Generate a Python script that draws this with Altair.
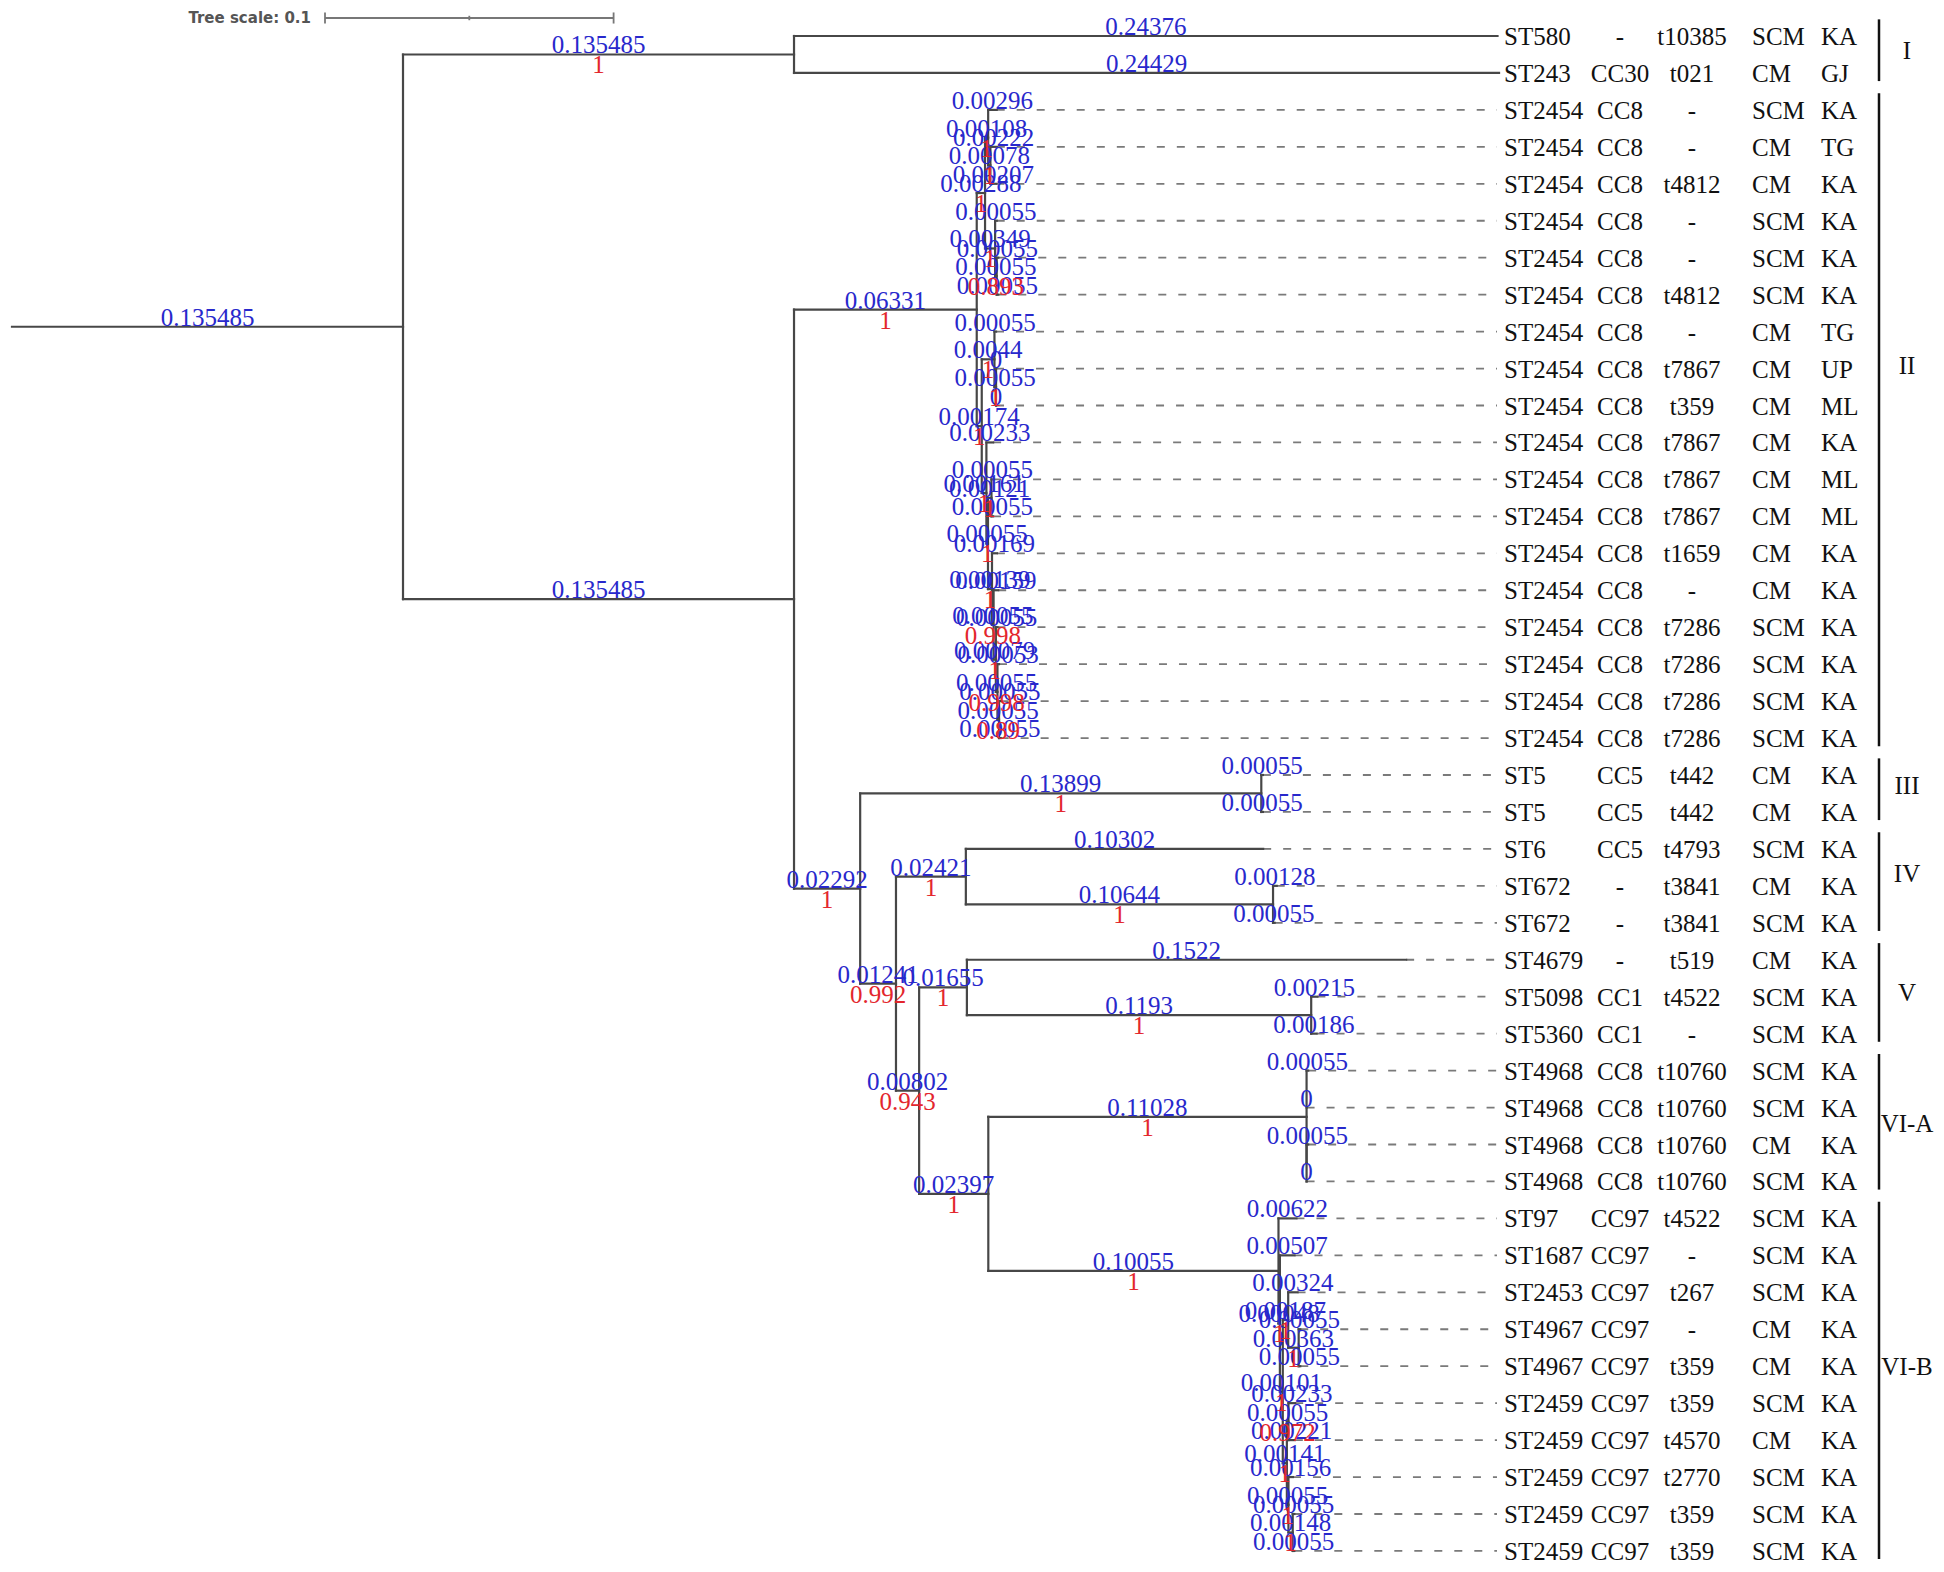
import altair as alt
import pandas as pd

# ---------------- data ----------------
# tree: node name, parent, branch length, bootstrap support (None = not shown)
node_name = ["root", "cI", "L0", "L1", "g", "cII", "a", "t", "L2", "n34", "L3", "L4", "u", "L5", "v", "L6", "L7",
             "b", "b1", "L8", "w", "L9", "L10", "b2", "L11", "r", "q", "L12", "L13", "s", "L14", "s2", "L15",
             "s3", "L16", "s4", "L17", "s5", "L18", "L19",
             "d", "cIII", "L20", "L21", "e", "cIV", "L22", "iv2", "L23", "L24", "f", "cV", "L25", "v2", "L26", "L27",
             "cVI", "cVIA", "L28", "L29", "p", "L30", "L31", "cVIB", "L32", "n33", "L33", "m", "n34b", "L34",
             "c35", "L35", "L36", "c3741", "c37", "L37", "L38", "c39", "L39", "c40", "L40", "L41"]
node_parent = [None, "root", "cI", "cI", "root", "g", "cII", "a", "t", "t", "n34", "n34", "a", "u", "u", "v", "v",
               "cII", "b", "b1", "b1", "w", "w", "b", "b2", "b2", "r", "q", "q", "r", "s", "s", "s2",
               "s2", "s3", "s3", "s4", "s4", "s5", "s5",
               "g", "d", "cIII", "cIII", "d", "e", "cIV", "cIV", "iv2", "iv2", "e", "f", "cV", "cV", "v2", "v2",
               "f", "cVI", "cVIA", "cVIA", "cVIA", "p", "p", "cVI", "cVIB", "cVIB", "n33", "n33", "m", "n34b",
               "n34b", "c35", "c35", "m", "c3741", "c37", "c37", "c3741", "c39", "c39", "c40", "c40"]
node_length = [0.135485, 0.135485, 0.24376, 0.24429, 0.135485, 0.06331, 0.00288, 0.00108, 0.00296, 0.00078,
               0.00222, 0.00207, 0.00349, 0.00055, 0.00055, 0.00055, 0.00055,
               0.00174, 0.0044, 0.00055, 0.00055, 0, 0, 0.00161, 0.00233, 0.00055, 0.00121, 0.00055, 0.00055,
               0.00139, 0.00169, 0.00055, 0.00159, 0.00079, 0.00055, 0.00055, 0.00053, 0.00055, 0.00055, 0.00055,
               0.02292, 0.13899, 0.00055, 0.00055, 0.01241, 0.02421, 0.10302, 0.10644, 0.00128, 0.00055,
               0.00802, 0.01655, 0.1522, 0.1193, 0.00215, 0.00186,
               0.02397, 0.11028, 0.00055, 0, 0, 0.00055, 0, 0.10055, 0.00622, 0.00048, 0.00507, 0.00101,
               0.00187, 0.00324, 0.00363, 0.00055, 0.00055, 0.00141, 0.00055, 0.00233, 0.00221, 0.00055,
               0.00156, 0.00148, 0.00055, 0.00055]
node_support = [None, 1, None, None, None, 1, 1, 1, None, 1, None, None, 1, None, 0.893, None, None,
                1, 1, None, 1, None, None, 1, None, 1, 1, None, None, 1, None, 0.998, None,
                1, None, 0.998, None, 0.89, None, None,
                1, 1, None, None, 0.992, 1, None, 1, None, None, 0.943, 1, None, 1, None, None,
                1, 1, None, None, None, None, None, 1, None, 1, None, 1, 1, None,
                1, None, None, 1, 0.972, None, None, 1, None, 1, None, None]
hidden_length_labels = ["p"]

# leaf annotation columns
leaf_st = ["ST580", "ST243"] + ["ST2454"] * 18 + ["ST5", "ST5", "ST6", "ST672", "ST672", "ST4679", "ST5098",
           "ST5360"] + ["ST4968"] * 4 + ["ST97", "ST1687", "ST2453", "ST4967", "ST4967"] + ["ST2459"] * 5
leaf_cc = ["-", "CC30"] + ["CC8"] * 18 + ["CC5", "CC5", "CC5", "-", "-", "-", "CC1", "CC1"] + ["CC8"] * 4 + \
          ["CC97"] * 10
leaf_spa = ["t10385", "t021", "-", "-", "t4812", "-", "-", "t4812", "-", "t7867", "t359", "t7867", "t7867",
            "t7867", "t1659", "-", "t7286", "t7286", "t7286", "t7286", "t442", "t442", "t4793", "t3841",
            "t3841", "t519", "t4522", "-", "t10760", "t10760", "t10760", "t10760", "t4522", "-", "t267", "-",
            "t359", "t359", "t4570", "t2770", "t359", "t359"]
leaf_mastitis = ["SCM", "CM",
                 "SCM", "CM", "CM", "SCM", "SCM", "SCM", "CM", "CM", "CM", "CM", "CM", "CM", "CM", "CM",
                 "SCM", "SCM", "SCM", "SCM",
                 "CM", "CM",
                 "SCM", "CM", "SCM",
                 "CM", "SCM", "SCM",
                 "SCM", "SCM", "CM", "SCM",
                 "SCM", "SCM", "SCM", "CM", "CM", "SCM", "CM", "SCM", "SCM", "SCM"]
leaf_region = ["KA", "GJ",
               "KA", "TG", "KA", "KA", "KA", "KA", "TG", "UP", "ML", "KA", "ML", "ML", "KA", "KA", "KA", "KA",
               "KA", "KA"] + ["KA"] * 22

clade_label = ["I", "II", "III", "IV", "V", "VI-A", "VI-B"]
clade_first = [0, 2, 20, 22, 25, 28, 32]
clade_last = [1, 19, 21, 24, 27, 31, 41]

tree_scale_value = 0.1
tree_scale_text = "Tree scale: 0.1"

# ---------------- layout ----------------
W, H = 1928, 1556
X0_PX, PX_PER_UNIT = 12.0, 2886.0      # page px of branch-length 0, px per unit
Y0_PX, PX_PER_ROW = 36.0, 36.95        # page px of leaf 0, px per leaf row


def ux(px):
    return (px - X0_PX) / PX_PER_UNIT


def uy(px):
    return (px - Y0_PX) / PX_PER_ROW


xs = alt.Scale(domain=[ux(8), ux(8 + W)], nice=False, zero=False)
ys = alt.Scale(domain=[uy(8), uy(8 + H)], nice=False, zero=False, reverse=True)

ALIGN_X = ux(1497)
COL_ST = ux(1504)
COL_CC = ux(1620)
COL_SPA = ux(1692)
COL_MM = ux(1752)
COL_REG = ux(1821)
BAR_X = ux(1879)
NUM_X = ux(1907)
NUM_ROW = [0.37, 8.9, 20.27, 22.65, 25.87, 29.43, 36.0]   # row position of each clade numeral
SCALE_X = ux(325)
SCALE_Y = uy(18)
SCALE_TXT_X = ux(311)

BLUE = "#2828cc"
RED = "#e3262d"
LINE = "#474747"
SERIF = "Liberation Serif"

# ---------------- tree geometry ----------------
children = {n: [] for n in node_name}
for n, p in zip(node_name, node_parent):
    if p is not None:
        children[p].append(n)
par = dict(zip(node_name, node_parent))
blen = dict(zip(node_name, node_length))
sup = dict(zip(node_name, node_support))

xpos = {}
for n in node_name:
    p = par[n]
    xpos[n] = (xpos[p] if p is not None else 0.0) + blen[n]

leaves = [n for n in node_name if not children[n]]
leaf_idx = {n: i for i, n in enumerate(leaves)}
ypos = {}


def gety(n):
    if n in ypos:
        return ypos[n]
    if not children[n]:
        v = float(leaf_idx[n])
    else:
        cy = [gety(c) for c in children[n]]
        v = (cy[0] + cy[-1]) / 2.0
    ypos[n] = v
    return v


for n in node_name:
    gety(n)

seg = []
for n in node_name:
    p = par[n]
    xstart = xpos[p] if p is not None else 0.0
    seg.append(dict(x=xstart, x2=xpos[n], y=ypos[n], y2=ypos[n]))
    if children[n]:
        seg.append(dict(x=xpos[n], x2=xpos[n], y=ypos[children[n][0]], y2=ypos[children[n][-1]]))
seg_df = pd.DataFrame(seg)

dash_df = pd.DataFrame([dict(x=xpos[n], x2=ALIGN_X, y=ypos[n], y2=ypos[n])
                        for n in leaves if xpos[n] < ALIGN_X - 1e-4])

blue_rows, red_rows = [], []
for n in node_name:
    p = par[n]
    xstart = xpos[p] if p is not None else 0.0
    xm = (xstart + xpos[n]) / 2.0
    if n not in hidden_length_labels:
        blue_rows.append(dict(x=xm, y=ypos[n], t=f"{blen[n]:g}"))
    if sup[n] is not None:
        red_rows.append(dict(x=xm, y=ypos[n], t=f"{sup[n]:g}"))
blue_df = pd.DataFrame(blue_rows)
red_df = pd.DataFrame(red_rows)

leaf_df = pd.DataFrame(dict(y=list(range(len(leaf_st))), st=leaf_st, cc=leaf_cc, spa=leaf_spa,
                            mm=leaf_mastitis, reg=leaf_region))
leaf_df["xst"] = COL_ST
leaf_df["xcc"] = COL_CC
leaf_df["xspa"] = COL_SPA
leaf_df["xmm"] = COL_MM
leaf_df["xreg"] = COL_REG

clade_df = pd.DataFrame(dict(lab=clade_label,
                             y=[f - 0.45 for f in clade_first],
                             y2=[l + 0.22 for l in clade_last],
                             ym=NUM_ROW))
clade_df["x"] = BAR_X
clade_df["xn"] = NUM_X

scale_df = pd.DataFrame([dict(x=SCALE_X, x2=SCALE_X + tree_scale_value, y=SCALE_Y, y2=SCALE_Y)])
tick_df = pd.DataFrame([
    dict(x=SCALE_X, x2=SCALE_X, y=SCALE_Y - 0.15, y2=SCALE_Y + 0.15),
    dict(x=SCALE_X + tree_scale_value, x2=SCALE_X + tree_scale_value, y=SCALE_Y - 0.15, y2=SCALE_Y + 0.15),
    dict(x=SCALE_X + tree_scale_value / 2, x2=SCALE_X + tree_scale_value / 2, y=SCALE_Y - 0.06,
         y2=SCALE_Y + 0.06),
])
scale_txt_df = pd.DataFrame([dict(x=SCALE_TXT_X, y=SCALE_Y, t=tree_scale_text)])


def X(f):
    return alt.X(f, type="quantitative", scale=xs, axis=None)


def Y(f):
    return alt.Y(f, type="quantitative", scale=ys, axis=None)


def rules(df, **kw):
    return alt.Chart(df).mark_rule(**kw).encode(x=X("x"), x2=alt.X2("x2"), y=Y("y"), y2=alt.Y2("y2"))


tree = rules(seg_df, color=LINE, strokeWidth=2.2, strokeCap="square")
dashes = rules(dash_df, color="#7a7a7a", strokeWidth=1.8, strokeDash=[8, 12])
blue = alt.Chart(blue_df).mark_text(font=SERIF, fontSize=25, color=BLUE, baseline="alphabetic",
                                    align="center", dy=-1).encode(x=X("x"), y=Y("y"), text="t:N")
red = alt.Chart(red_df).mark_text(font=SERIF, fontSize=25, color=RED, baseline="alphabetic",
                                  align="center", dy=19).encode(x=X("x"), y=Y("y"), text="t:N")


def leaf_text(col, xcol, align):
    return alt.Chart(leaf_df).mark_text(font=SERIF, fontSize=25, color="#111111", baseline="alphabetic",
                                        align=align, dy=9).encode(x=X(xcol), y=Y("y"), text=f"{col}:N")


t_st = leaf_text("st", "xst", "left")
t_cc = leaf_text("cc", "xcc", "center")
t_spa = leaf_text("spa", "xspa", "center")
t_mm = leaf_text("mm", "xmm", "left")
t_reg = leaf_text("reg", "xreg", "left")

bars = alt.Chart(clade_df).mark_rule(color="#111111", strokeWidth=2.5).encode(
    x=X("x"), y=Y("y"), y2=alt.Y2("y2"))
nums = alt.Chart(clade_df).mark_text(font=SERIF, fontSize=25, color="#111111", baseline="alphabetic",
                                     align="center", dy=9).encode(x=X("xn"), y=Y("ym"), text="lab:N")

sbar = rules(scale_df, color="#777777", strokeWidth=2.2)
sticks = rules(tick_df, color="#777777", strokeWidth=1.8)
stxt = alt.Chart(scale_txt_df).mark_text(font="DejaVu Sans", fontSize=15, fontWeight="bold",
                                         color="#555555", baseline="middle", align="right").encode(
    x=X("x"), y=Y("y"), text="t:N")

chart = alt.layer(dashes, tree, blue, red, t_st, t_cc, t_spa, t_mm, t_reg, bars, nums, sbar, sticks, stxt).properties(
    width=W, height=H, autosize=alt.AutoSizeParams(type="none"), padding=0, background="white"
).configure_view(strokeWidth=0, stroke="transparent")

chart.save("out.html", embed_options={"renderer": "svg", "actions": False})
